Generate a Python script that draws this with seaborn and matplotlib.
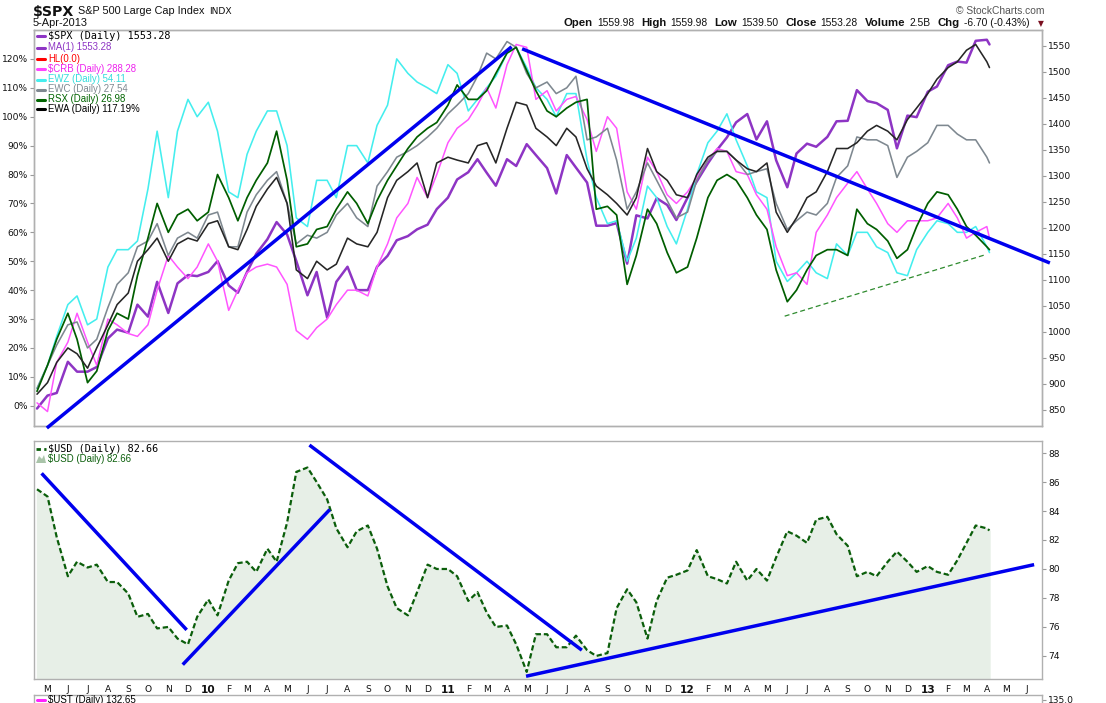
import numpy as np
import pandas as pd
import matplotlib
matplotlib.use("Agg")
import matplotlib.pyplot as plt
from matplotlib.lines import Line2D
from matplotlib.patches import Polygon
import seaborn as sns

# ---------------- data ----------------
dates = list(pd.date_range("2009-04-15", "2013-04-01", freq="SMS")) + [pd.Timestamp("2013-04-05")]

spx = [852, 877, 882, 942, 923, 923, 932, 987, 1004, 998, 1052, 1029, 1096, 1036, 1093, 1109, 1107,
       1115, 1136, 1089, 1075, 1115, 1150, 1178, 1211, 1187, 1136, 1070, 1115, 1027, 1096, 1125, 1080,
       1080, 1125, 1146, 1176, 1184, 1197, 1206, 1236,
       1258, 1293, 1307, 1332, 1306, 1281, 1332, 1319, 1361, 1340, 1315, 1266, 1340, 1316, 1287, 1204,
       1204, 1209, 1131, 1224, 1218, 1257, 1244, 1215,
       1258, 1289, 1324, 1350, 1374, 1403, 1419, 1370, 1405, 1330, 1278, 1343, 1362, 1356, 1375, 1405,
       1406, 1465, 1444, 1440, 1427, 1353, 1416, 1413,
       1462, 1472, 1513, 1520, 1518, 1560, 1562, 1553]

ewz = [6, 14, 24, 35, 38, 28, 30, 48, 54, 54, 57, 75, 95, 72, 95, 106, 100, 105, 95, 74,
       72, 87, 95, 102, 102, 90, 65, 62, 78, 78, 72, 90, 90, 84, 97, 104, 120, 115, 112, 110,
       108, 118, 115, 102, 106, 110, 114, 122, 124, 117, 110, 106, 100, 108, 108, 85, 72, 63, 64, 50,
       58, 76, 72, 62, 56, 68, 80, 91, 95, 101, 92, 83, 74, 72, 50, 43, 46, 50, 46, 44,
       56, 52, 60, 60, 55, 53, 46, 45, 54, 60, 64, 63, 60, 60, 62, 55, 53]

rsx = [5, 14, 23, 32, 23, 8, 12, 26, 32, 30, 45, 58, 70, 60, 66, 68, 64, 67, 80, 72,
       64, 72, 78, 84, 95, 78, 55, 56, 61, 62, 68, 74, 70, 63, 71, 78, 83, 89, 93, 96,
       98, 104, 111, 106, 106, 109, 115, 122, 124, 116, 109, 102, 100, 103, 105, 106, 68, 69, 66, 42,
       52, 68, 63, 53, 46, 48, 58, 72, 78, 80, 78, 72, 66, 61, 47, 36, 40, 47, 52, 54,
       54, 52, 68, 63, 61, 57, 51, 54, 62, 70, 74, 73, 68, 62, 59, 55, 54]

ewc = [6, 14, 21, 28, 29, 20, 23, 34, 42, 46, 55, 57, 63, 52, 58, 60, 58, 66, 67, 55,
       55, 67, 73, 78, 81, 70, 56, 59, 58, 60, 66, 70, 65, 62, 76, 81, 86, 88, 90, 93,
       96, 101, 104, 108, 114, 122, 120, 126, 124, 115, 110, 112, 108, 110, 114, 92, 93, 96, 85, 68,
       74, 84, 78, 71, 65, 67, 78, 85, 88, 88, 85, 80, 81, 82, 70, 61, 64, 67, 66, 70,
       79, 83, 93, 92, 92, 90, 79, 86, 88, 91, 97, 97, 94, 92, 92, 86, 84]

ewa = [4, 8, 15, 20, 18, 13, 20, 28, 35, 39, 50, 54, 58, 50, 56, 58, 57, 63, 64, 55,
       54, 61, 69, 75, 79, 70, 47, 44, 50, 47, 49, 58, 56, 55, 60, 72, 78, 81, 84, 72,
       84, 86, 85, 84, 90, 91, 84, 96, 105, 104, 96, 93, 90, 96, 93, 82, 76, 73, 70, 66,
       72, 89, 81, 78, 73, 72, 80, 86, 88, 88, 85, 82, 81, 84, 67, 60, 65, 72, 74, 81,
       89, 89, 91, 95, 97, 95, 92, 99, 103, 108, 113, 117, 119, 123, 125, 119, 117]

crb = [1, -2, 15, 22, 32, 22, 14, 30, 28, 25, 24, 28, 40, 52, 48, 44, 48, 56, 50, 33,
       40, 46, 48, 49, 48, 42, 26, 23, 27, 30, 35, 40, 40, 38, 48, 56, 65, 70, 79, 72,
       80, 91, 96, 99, 104, 110, 103, 118, 125, 124, 106, 109, 102, 106, 107, 99, 88, 100, 96, 74,
       68, 86, 81, 73, 70, 74, 79, 85, 89, 88, 81, 80, 73, 68, 55, 45, 46, 42, 60, 66,
       72, 77, 81, 75, 70, 63, 60, 64, 64, 64, 65, 70, 65, 58, 60, 62, 58]

usd = [85.5, 85.0, 82.2, 79.5, 80.5, 80.1, 80.3, 79.1, 79.1, 78.3,
       76.7, 76.9, 75.9, 76.0, 75.2, 74.8, 76.7, 77.9, 76.8, 79.2,
       80.4, 80.5, 79.8, 81.4, 80.5, 83.2, 86.7, 87.0, 86.0, 84.8,
       82.8, 81.5, 82.6, 83.0, 81.4, 78.8, 77.3, 76.8, 78.4, 80.3,
       80.0, 80.0, 79.5, 77.8, 78.4, 77.0, 76.0, 76.1, 74.8, 72.9,
       75.5, 75.5, 74.6, 74.6, 75.4, 74.4, 74.0, 74.2, 77.3, 78.6,
       77.7, 75.2, 77.8, 79.4, 79.6, 79.9, 81.3, 79.5, 79.3, 79.0,
       80.5, 79.2, 80.0, 79.2, 80.8, 82.6, 82.3, 81.8, 83.4, 83.6,
       82.4, 81.6, 79.5, 79.8, 79.5, 80.5, 81.2, 80.5, 79.8, 80.2,
       79.8, 79.6, 80.6, 81.8, 83.0, 82.8, 82.66]

# hand-drawn trend lines (date, value) pairs
top_lines = [(("2009-04-30", -7.7), ("2011-04-08", 124.2)),
             (("2011-04-24", 123.5), ("2013-07-06", 49.4))]
support_line = (("2012-05-28", 31.0), ("2013-03-29", 52.2))
usd_lines = [(("2009-04-22", 86.6), ("2009-11-29", 75.8)),
             (("2009-11-23", 73.4), ("2010-07-05", 84.1)),
             (("2010-06-04", 88.55), ("2011-07-24", 74.4)),
             (("2011-04-30", 72.6), ("2013-06-12", 80.3))]

legend_top = [("$SPX (Daily) 1553.28", "#8E35C4", "#000000"),
              ("MA(1) 1553.28", "#8E35C4", "#8E35C4"),
              ("HL(0.0)", "#FF0000", "#FF0000"),
              ("$CRB (Daily) 288.28", "#FF44FF", "#EE22EE"),
              ("EWZ (Daily) 54.11", "#44EEEE", "#33DDDD"),
              ("EWC (Daily) 27.54", "#7E8890", "#7E8890"),
              ("RSX (Daily) 26.98", "#006400", "#006400"),
              ("EWA (Daily) 117.19%", "#000000", "#000000")]

quote = [("Open", True), ("1559.98", False), ("High", True), ("1559.98", False),
         ("Low", True), ("1539.50", False), ("Close", True), ("1553.28", False),
         ("Volume", True), ("2.5B", False), ("Chg", True), ("-6.70 (-0.43%)", False)]

# ---------------- style ----------------
sns.set_theme(style="white")
plt.rcParams["font.family"] = ["DejaVu Sans"]

C_SPX, C_CRB, C_EWZ, C_EWC, C_RSX, C_EWA = "#8E35C4", "#FF55FF", "#44EEEE", "#7E8890", "#005E00", "#262626"
BLUE = "#0000EE"
FRAME = "#B0B0B0"
W, H = 1106, 703


def fx(x):
    return x / W


def fy(y):
    return 1 - y / H


fig = plt.figure(figsize=(W / 100, H / 100), dpi=100, facecolor="white")
L, R = 34, 1042
ax = fig.add_axes([fx(L), fy(426), (R - L) / W, (426 - 30) / H])
axb = fig.add_axes([fx(L), fy(679), (R - L) / W, (679 - 441) / H])
axc = fig.add_axes([fx(L), fy(760), (R - L) / W, (760 - 695) / H])

xmin, xmax = pd.Timestamp("2009-04-10 10:00"), pd.Timestamp("2013-06-24")
months = pd.date_range("2009-05-01", "2013-06-01", freq="MS")
mlabels = [f"{d.year % 100:02d}" if d.month == 1 else d.strftime("%b")[0] for d in months]

# ---------------- top panel ----------------
ax_r = ax.twinx()
ax.set_zorder(ax_r.get_zorder() + 1)
ax.patch.set_visible(False)

sns.lineplot(x=dates, y=spx, ax=ax_r, color=C_SPX, linewidth=1.8, legend=False)
for vals, col, lw in [(ewz, C_EWZ, 1.15), (crb, C_CRB, 1.1), (ewc, C_EWC, 1.15),
                      (rsx, C_RSX, 1.25), (ewa, C_EWA, 1.15)]:
    sns.lineplot(x=dates, y=vals, ax=ax, color=col, linewidth=lw, legend=False)

for (d0, v0), (d1, v1) in top_lines:
    ax.plot([pd.Timestamp(d0), pd.Timestamp(d1)], [v0, v1], color=BLUE, lw=2.5,
            solid_capstyle="butt", clip_on=False, zorder=5)
(d0, v0), (d1, v1) = support_line
ax.plot([pd.Timestamp(d0), pd.Timestamp(d1)], [v0, v1], color="#2E8B2E", lw=0.9,
        linestyle=(0, (4, 2.5)), zorder=5)

ax.set_xlim(xmin, xmax)
ax.set_ylim(-7.0, 130.0)
ax_r.set_ylim(818.4, 1580.8)
ax.set_yticks(range(0, 121, 10))
ax.set_yticklabels([f"{v}%" for v in range(0, 121, 10)])
ax_r.set_yticks(range(850, 1551, 50))

# ---------------- bottom panel ----------------
axb.fill_between(dates, usd, 72.0, color="#E7EFE7", zorder=1)
sns.lineplot(x=dates, y=usd, ax=axb, color="#0B5E0B", linewidth=1.6, legend=False)
axb.lines[-1].set_linestyle((0, (2.4, 1.3)))
for (d0, v0), (d1, v1) in usd_lines:
    axb.plot([pd.Timestamp(d0), pd.Timestamp(d1)], [v0, v1], color=BLUE, lw=2.5,
             solid_capstyle="butt", clip_on=False, zorder=5)
axb.set_xlim(xmin, xmax)
axb.set_ylim(72.41, 88.83)
axb.yaxis.tick_right()
axb.set_yticks(range(74, 89, 2))

# ---------------- sliver of third panel ----------------
axc.set_xlim(xmin, xmax)
axc.set_ylim(109, 137)
axc.set_xticks([])
axc.yaxis.tick_right()
axc.set_yticks([135])
axc.set_yticklabels(["135.0"])

# ---------------- common axis styling ----------------
for a in (ax, ax_r, axb, axc):
    a.set_xlabel("")
    a.set_ylabel("")
    for s in a.spines.values():
        s.set_color(FRAME)
        s.set_linewidth(1.0)
    a.tick_params(axis="both", which="both", direction="out", length=3, width=0.8,
                  color="#9A9A9A", labelsize=6.6, pad=1.5, labelcolor="#111111")

for a in (ax, axb):
    a.set_xticks(months)
    a.set_xticklabels(mlabels)
    for t, d in zip(a.get_xticklabels(), months):
        if d.month == 1:
            t.set_fontweight("bold")
            t.set_fontsize(7.6)
ax_r.set_xticks([])

# ---------------- legends ----------------
rows = [36, 47.5, 58.5, 69, 79.5, 89.5, 99.5, 109]
for (txt, lc, tc), y in zip(legend_top, rows):
    fig.add_artist(Line2D([fx(37), fx(45)], [fy(y), fy(y)], color=lc, lw=2.2,
                          transform=fig.transFigure))
    if txt.startswith("$SPX"):
        fig.text(fx(48), fy(y), txt, color=tc, fontsize=7.3, family="DejaVu Sans Mono", va="center")
    else:
        fig.text(fx(48), fy(y), txt, color=tc, fontsize=6.9, family="Liberation Sans", va="center")

fig.add_artist(Line2D([fx(36), fx(46)], [fy(449), fy(449)], color="#0B5E0B", lw=2.0,
                      linestyle=(0, (1.6, 1.2)), transform=fig.transFigure))
fig.text(fx(48), fy(449), "$USD (Daily) 82.66", color="#000000", fontsize=7.3,
         family="DejaVu Sans Mono", va="center")
fig.add_artist(Polygon([[fx(36), fy(463)], [fx(39), fy(456)], [fx(42), fy(459)],
                        [fx(44), fy(455)], [fx(46), fy(463)]], closed=True,
                       facecolor="#A9C4A9", edgecolor="none", transform=fig.transFigure))
fig.text(fx(48), fy(459.5), "$USD (Daily) 82.66", color="#0B5E0B", fontsize=6.9,
         family="Liberation Sans", va="center")

fig.add_artist(Line2D([fx(37), fx(45)], [fy(700), fy(700)], color="#FF22FF", lw=2.2,
                      transform=fig.transFigure))
fig.text(fx(48), fy(700), "$UST (Daily) 132.65", color="#000000", fontsize=7.0,
         family="Liberation Sans", va="center")

# ---------------- header ----------------
renderer = fig.canvas.get_renderer()
hx = 33.0
for txt, kw, gap in [("$SPX", dict(fontsize=10.2, fontweight="bold", family="DejaVu Sans"), 4),
                     ("S&P 500 Large Cap Index", dict(fontsize=7.8, family="Liberation Sans"), 4),
                     ("INDX", dict(fontsize=6.6, family="DejaVu Sans"), 0)]:
    t = fig.text(fx(hx), fy(11.5), txt, va="center", color="#111111", **kw)
    hx += t.get_window_extent(renderer=renderer).width + gap
fig.text(fx(33), fy(23), "5-Apr-2013", fontsize=7.9, family="Liberation Sans", va="center",
         color="#111111")
fig.text(fx(1044), fy(11), "\u00a9 StockCharts.com", fontsize=7.4, family="Liberation Sans",
         va="center", ha="right", color="#555555")

xpos = 564.0
for txt, bold in quote:
    t = fig.text(fx(xpos), fy(23), txt, fontsize=8.2 if bold else 7.4,
                 fontweight="bold" if bold else "normal", family="Liberation Sans",
                 va="center", color="#111111")
    w = t.get_window_extent(renderer=renderer).width
    xpos += w + (4 if bold else 7)
fig.text(fx(xpos + 2), fy(24), "\u25bc", fontsize=5.5, family="DejaVu Sans", va="center",
         color="#7A1020")

fig.savefig("out.png", dpi=100, facecolor="white")
